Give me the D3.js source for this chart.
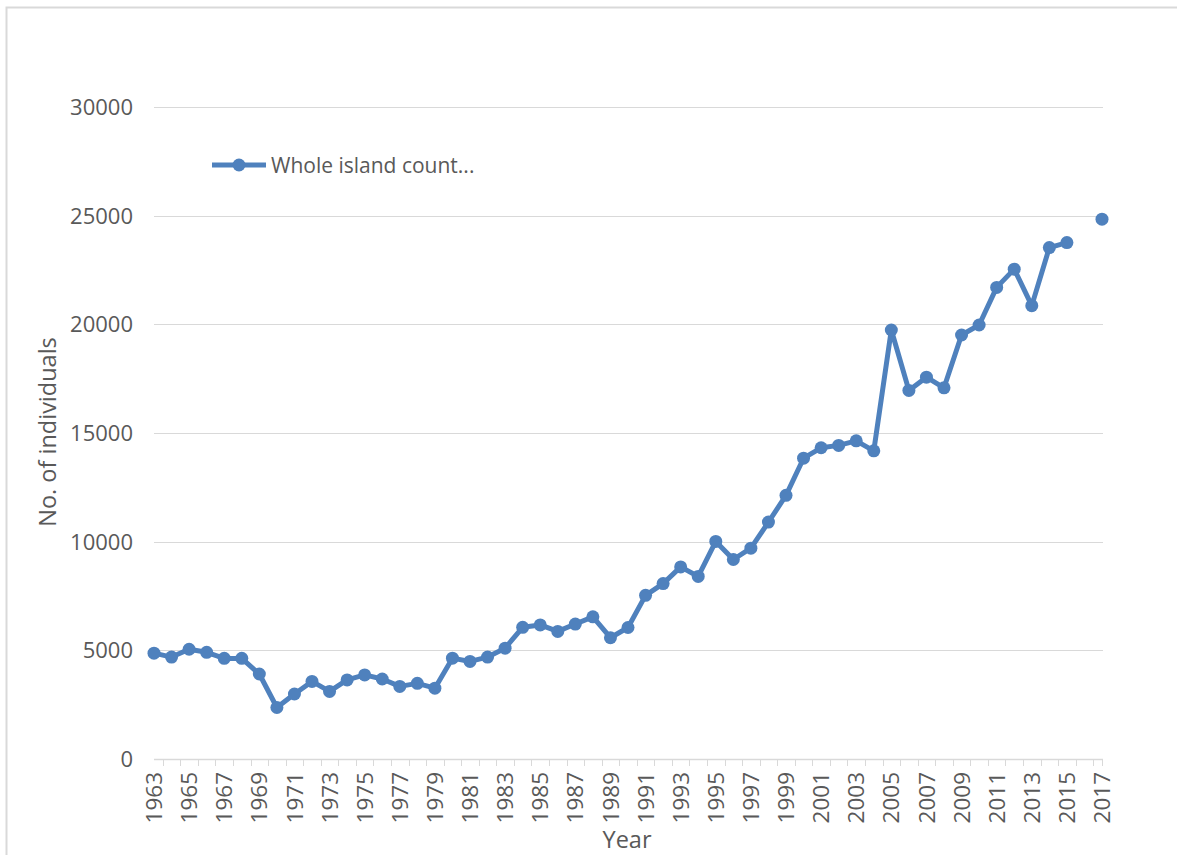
<!DOCTYPE html>
<html>
<head>
<meta charset="utf-8">
<script src="https://cdn.jsdelivr.net/npm/d3@7"></script>
<style>
  html, body { margin: 0; padding: 0; background: #fff; }
  svg { display: block; }
  text { font-family: "Open Sans", "Noto Sans", sans-serif; fill: #595959; }
</style>
</head>
<body>
<svg id="chart" width="1177" height="855"></svg>
<script>
// ---- data ----
const years = d3.range(1963, 2018);
const counts = [
  4870, 4690, 5050, 4910, 4630, 4630, 3910, 2370, 2990, 3570,
  3110, 3640, 3870, 3680, 3340, 3480, 3260, 4640, 4490, 4690,
  5100, 6060, 6170, 5870, 6210, 6540, 5580, 6050, 7530, 8070,
  8840, 8400, 10010, 9180, 9700, 10900, 12130, 13840, 14320, 14430,
  14640, 14180, 19740, 16960, 17570, 17080, 19510, 19970, 21700, 22540,
  20860, 23530, 23760, null, 24840
];
const seriesName = "Whole island count...";
const yTicks = [0, 5000, 10000, 15000, 20000, 25000, 30000];
const xLabelYears = years.filter((y, i) => i % 2 === 0);
const yTitle = "No. of individuals";
const xTitle = "Year";

const data = years.map((y, i) => ({ year: y, value: counts[i] }));

// ---- layout ----
const svg = d3.select("#chart");
const color = "#4f81bd";
const grid = "#d9d9d9";

svg.append("rect")
  .attr("x", 6.5).attr("y", 7.5)
  .attr("width", 1300).attr("height", 1000)
  .attr("fill", "#fff").attr("stroke", "#d9d9d9").attr("stroke-width", 2);

const x = d3.scalePoint().domain(years).range([154, 1102]).padding(0);
const y = d3.scaleLinear().domain([0, 30000]).range([759, 107]);
const plotLeft = 154, plotRight = 1103;

// gridlines
svg.append("g").selectAll("line")
  .data(yTicks.filter(t => t !== 0))
  .join("line")
  .attr("x1", plotLeft).attr("x2", plotRight)
  .attr("y1", d => Math.round(y(d)) + 0.5).attr("y2", d => Math.round(y(d)) + 0.5)
  .attr("stroke", grid).attr("stroke-width", 1);

// y labels
svg.append("g").selectAll("text")
  .data(yTicks)
  .join("text")
  .attr("x", 133)
  .attr("y", d => y(d))
  .attr("dy", "0.36em")
  .attr("text-anchor", "end")
  .attr("font-size", 22)
  .text(d => d);

// x axis line
svg.append("line")
  .attr("x1", plotLeft).attr("x2", plotRight)
  .attr("y1", 759.5).attr("y2", 759.5)
  .attr("stroke", grid).attr("stroke-width", 1.5);

// tick marks between categories + end
const step = x.step();
const tickPos = years.slice(0, -1).map(yr => x(yr) + step / 2).concat([x(2017)]);
svg.append("g").selectAll("line")
  .data(tickPos)
  .join("line")
  .attr("x1", d => Math.round(d) + 0.5).attr("x2", d => Math.round(d) + 0.5)
  .attr("y1", 759).attr("y2", 766)
  .attr("stroke", grid).attr("stroke-width", 1);

// x labels
svg.append("g").selectAll("text")
  .data(xLabelYears)
  .join("text")
  .attr("transform", d => `translate(${x(d)},772) rotate(-90)`)
  .attr("dy", "0.36em")
  .attr("text-anchor", "end")
  .attr("font-size", 22.5)
  .text(d => d);

// axis titles
svg.append("text")
  .attr("transform", "translate(48,432) rotate(-90)")
  .attr("dy", "0.36em")
  .attr("text-anchor", "middle")
  .attr("font-size", 23.5)
  .text(yTitle);

svg.append("text")
  .attr("x", 627).attr("y", 848)
  .attr("text-anchor", "middle")
  .attr("font-size", 23.5)
  .text(xTitle);

// line
const line = d3.line()
  .defined(d => d.value != null)
  .x(d => x(d.year))
  .y(d => y(d.value));

svg.append("path")
  .datum(data)
  .attr("d", line)
  .attr("fill", "none")
  .attr("stroke", color)
  .attr("stroke-width", 5)
  .attr("stroke-linejoin", "round");

svg.append("g").selectAll("circle")
  .data(data.filter(d => d.value != null))
  .join("circle")
  .attr("cx", d => x(d.year))
  .attr("cy", d => y(d.value))
  .attr("r", 6.5)
  .attr("fill", color);

// legend
const lg = svg.append("g");
lg.append("line")
  .attr("x1", 212).attr("x2", 266)
  .attr("y1", 165).attr("y2", 165)
  .attr("stroke", color).attr("stroke-width", 5);
lg.append("circle")
  .attr("cx", 239).attr("cy", 165).attr("r", 6.5)
  .attr("fill", color);
lg.append("text")
  .attr("x", 271).attr("y", 165)
  .attr("dy", "0.36em")
  .attr("font-size", 21)
  .text(seriesName);
</script>
</body>
</html>
